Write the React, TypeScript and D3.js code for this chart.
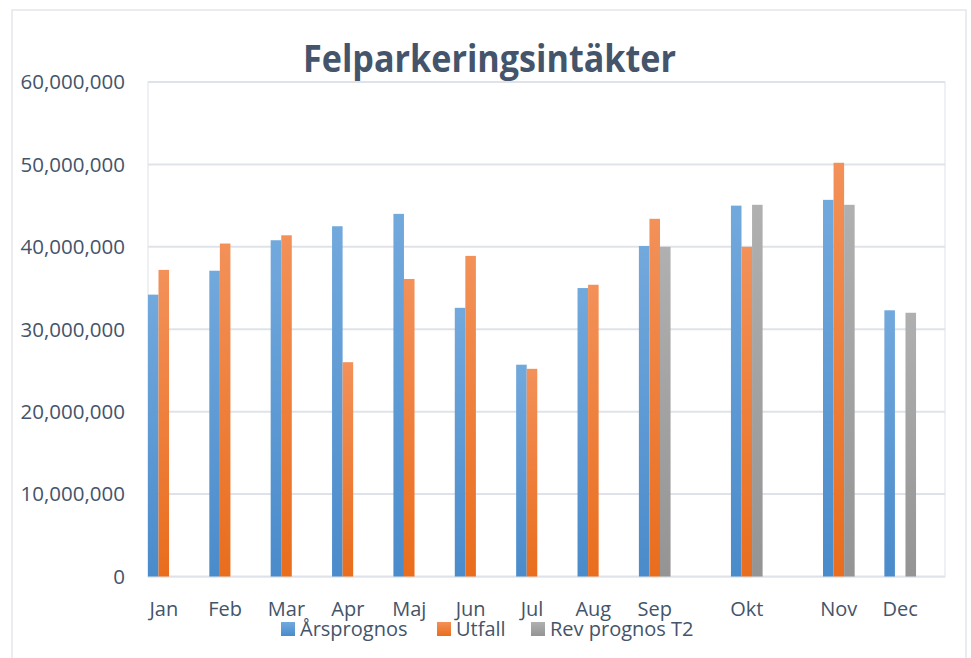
import { useRef, useEffect } from 'react';
import * as d3 from 'd3';

const months = ['Jan', 'Feb', 'Mar', 'Apr', 'Maj', 'Jun', 'Jul', 'Aug', 'Sep', 'Okt', 'Nov', 'Dec'];
const seriesNames = ['Årsprognos', 'Utfall', 'Rev prognos T2'];
const arsprognos = [34.2, 37.1, 40.8, 42.5, 44.0, 32.6, 25.7, 35.0, 40.1, 45.0, 45.7, 32.3];
const utfall = [37.2, 40.4, 41.4, 26.0, 36.1, 38.9, 25.2, 35.4, 43.4, 40.0, 50.2, null];
const revPrognos = [null, null, null, null, null, null, null, null, 40.0, 45.1, 45.1, 32.0];
const yTicks = [0, 10, 20, 30, 40, 50, 60];

const FONT = '"Open Sans", "DejaVu Sans", sans-serif';
const TEXT = '#44546A';

const App = () => {
  const svgRef = useRef<SVGSVGElement>(null);

  useEffect(() => {
    if (!svgRef.current) return;
    const width = 971;
    const height = 658;
    const plot = { left: 148, top: 82, right: 945, bottom: 577 };

    const svg = d3.select(svgRef.current).attr('width', width).attr('height', height);
    svg.selectAll('*').remove();

    const defs = svg.append('defs');
    const grads = [
      ['g0', '#72A9DD', '#4A8BCB'],
      ['g1', '#F39159', '#E96D1D'],
      ['g2', '#B0B0B0', '#949494'],
    ];
    grads.forEach(([id, top, bottom]) => {
      const lg = defs.append('linearGradient').attr('id', id).attr('x1', 0).attr('y1', 0).attr('x2', 0).attr('y2', 1);
      lg.append('stop').attr('offset', '0%').attr('stop-color', top);
      lg.append('stop').attr('offset', '100%').attr('stop-color', bottom);
    });

    // outer chart border
    svg.append('rect').attr('x', 12).attr('y', 10).attr('width', 954).attr('height', 660)
      .attr('fill', 'white').attr('stroke', '#E3E6EC').attr('stroke-width', 1.5);

    // the category axis has uneven gaps around Okt and Nov
    const slot = (i: number) => i + (i >= 9 ? 0.5 : 0) + (i >= 10 ? 0.5 : 0);
    const x = d3.scaleLinear().domain([-0.257, 12.73]).range([plot.left, plot.right]);
    const y = d3.scaleLinear().domain([0, 60]).range([plot.bottom - 0.5, plot.top]);

    // plot area border
    svg.append('rect').attr('x', plot.left).attr('y', plot.top)
      .attr('width', plot.right - plot.left).attr('height', plot.bottom - plot.top)
      .attr('fill', 'none').attr('stroke', '#E3E6EC').attr('stroke-width', 1.2);

    svg.append('g').selectAll('line').data(yTicks).enter().append('line')
      .attr('x1', plot.left).attr('x2', plot.right)
      .attr('y1', (d) => y(d)).attr('y2', (d) => y(d))
      .attr('stroke', '#DFE3E9').attr('stroke-width', 2);

    svg.append('g').selectAll('text').data(yTicks).enter().append('text')
      .attr('x', 125).attr('y', (d) => y(d)).attr('dy', '0.36em')
      .attr('text-anchor', 'end').attr('font-family', FONT).attr('font-size', 20.5).attr('fill', TEXT)
      .text((d) => d3.format(',')(d * 1000000));

    const step = x(1) - x(0);
    const barW = step * 0.172;
    const series = [arsprognos, utfall, revPrognos];
    series.forEach((vals, s) => {
      svg.append('g').selectAll('rect').data(vals.map((v, i) => ({ v, i })).filter((d) => d.v != null))
        .enter().append('rect')
        .attr('x', (d) => x(slot(d.i)) + (s - 1.5) * barW)
        .attr('y', (d) => y(d.v as number))
        .attr('width', barW)
        .attr('height', (d) => y(0) - y(d.v as number))
        .attr('fill', `url(#g${s})`);
    });

    svg.append('g').selectAll('text').data(months).enter().append('text')
      .attr('x', (d, i) => x(slot(i))).attr('y', 616)
      .attr('text-anchor', 'middle').attr('font-family', FONT).attr('font-size', 20).attr('fill', TEXT)
      .text((d) => d);

    const legendX = [281, 437, 531];
    const legend = svg.append('g').selectAll('g').data(seriesNames).enter().append('g')
      .attr('transform', (d, i) => `translate(${legendX[i]}, 622)`);
    legend.append('rect').attr('width', 14).attr('height', 14).attr('fill', (d, i) => `url(#g${i})`);
    legend.append('text').attr('x', 19).attr('y', 7).attr('dy', '0.36em')
      .attr('font-family', FONT).attr('font-size', 20).attr('fill', TEXT).text((d) => d);

    svg.append('text').attr('x', 489.5).attr('y', 72).attr('text-anchor', 'middle')
      .attr('font-family', FONT).attr('font-weight', 'bold').attr('font-size', 38).attr('fill', TEXT)
      .attr('textLength', 373).attr('lengthAdjust', 'spacingAndGlyphs')
      .text('Felparkeringsintäkter');
  }, []);

  return (
    <div style={{ position: 'absolute', left: 0, top: 0 }}>
      <svg ref={svgRef}></svg>
    </div>
  );
};

export default App;
